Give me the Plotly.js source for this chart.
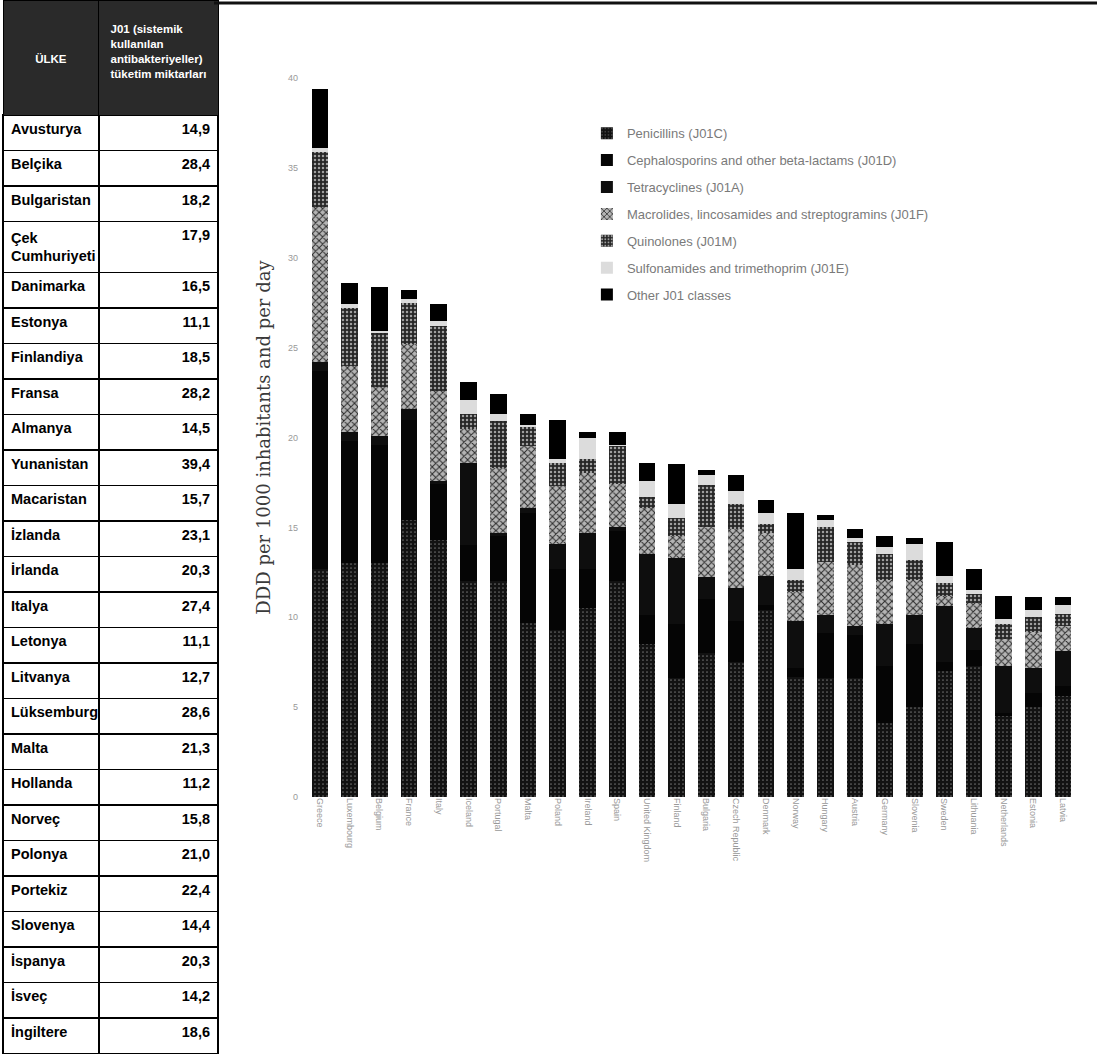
<!DOCTYPE html>
<html>
<head>
<meta charset="utf-8">
<script src="https://cdn.plot.ly/plotly-3.0.1.min.js"></script>
<style>
html,body{margin:0;padding:0;background:#fff;}
#chart{width:1097px;height:1056px;}
</style>
</head>
<body>
<div id="chart"></div>
<script>
// ---- Table data (left) ----
const tableHeader = ["\u00a0<br>\u00a0<br>\u00a0<br>ÜLKE", "\u00a0<br>J01 (sistemik<br>kullanılan<br>antibakteriyeller)<br>tüketim miktarları"];
const tableCountries = ["Avusturya","Belçika","Bulgaristan","Çek<br>Cumhuriyeti","Danimarka","Estonya","Finlandiya","Fransa","Almanya","Yunanistan","Macaristan","İzlanda","İrlanda","Italya","Letonya","Litvanya","Lüksemburg","Malta","Hollanda","Norveç","Polonya","Portekiz","Slovenya","İspanya","İsveç","İngiltere"];
const tableValues = [14.9,28.4,18.2,17.9,16.5,11.1,18.5,28.2,14.5,39.4,15.7,23.1,20.3,27.4,11.1,12.7,28.6,21.3,11.2,15.8,21.0,22.4,14.4,20.3,14.2,18.6];

// ---- Chart data (right) ----
const chartCountries = ["Greece","Luxembourg","Belgium","France","Italy","Iceland","Portugal","Malta","Poland","Ireland","Spain","United Kingdom","Finland","Bulgaria","Czech Republic","Denmark","Norway","Hungary","Austria","Germany","Slovenia","Sweden","Lithuania","Netherlands","Estonia","Latvia"];
const seriesNames = ["Penicillins (J01C)","Cephalosporins and other beta-lactams (J01D)","Tetracyclines (J01A)","Macrolides, lincosamides and streptogramins (J01F)","Quinolones (J01M)","Sulfonamides and trimethoprim (J01E)","Other J01 classes"];
const penicillins    = [12.7,13.0,13.0,15.4,14.3,12.0,12.0,9.7,9.3,10.5,12.0,8.5,6.6,8.0,7.5,10.4,6.7,6.6,6.6,4.1,5.0,7.0,7.3,4.5,5.0,5.6];
const cephalosporins = [11.0,6.8,6.6,5.6,3.1,2.0,2.5,6.1,3.4,2.2,2.8,1.6,3.0,3.0,2.3,0.3,0.5,2.5,2.4,3.2,3.5,0.5,0.9,0.2,0.8,0.6];
const tetracyclines  = [0.5,0.5,0.5,0.6,0.2,4.6,0.2,0.3,1.4,2.0,0.2,3.4,3.7,1.25,1.8,1.6,2.6,1.0,0.5,2.3,1.6,3.1,1.2,2.6,1.4,1.9];
const macrolides     = [8.6,3.7,2.7,3.6,5.0,1.9,3.6,3.4,3.2,3.3,2.4,2.6,1.2,2.75,3.3,2.4,1.6,3.0,3.4,2.5,2.0,0.6,1.4,1.5,2.0,1.4];
const quinolones     = [3.1,3.2,3.0,2.3,3.6,0.8,2.6,1.1,1.3,0.8,2.1,0.6,1.0,2.35,1.4,0.5,0.7,1.9,1.3,1.4,1.1,0.7,0.5,0.8,0.8,0.7];
const sulfonamides   = [0.2,0.2,0.1,0.2,0.3,0.8,0.4,0.1,0.2,1.2,0.1,0.9,0.8,0.55,0.7,0.6,0.6,0.4,0.2,0.4,0.9,0.4,0.2,0.3,0.4,0.5];
const otherJ01       = [3.3,1.2,2.5,0.5,0.9,1.0,1.1,0.6,2.2,0.3,0.7,1.0,2.2,0.3,0.9,0.7,3.1,0.3,0.5,0.6,0.3,1.9,1.2,1.3,0.7,0.4];
const yTickValues = [0,5,10,15,20,25,30,35,40];

// ---- Styles ----
const W = 1097, H = 1056;
const seriesData = [penicillins, cephalosporins, tetracyclines, macrolides, quinolones, sulfonamides, otherJ01];
const seriesMarkers = [
  {color:'#161616', pattern:{shape:'.', fgcolor:'#6a6a6a', bgcolor:'#121212', size:4, solidity:0.15}},
  {color:'#050505'},
  {color:'#0e0e0e'},
  {color:'#9a9a9a', pattern:{shape:'x', fgcolor:'#2a2a2a', bgcolor:'#b4b4b4', size:5, solidity:0.35}},
  {color:'#333333', pattern:{shape:'.', fgcolor:'#a0a0a0', bgcolor:'#262626', size:4, solidity:0.3}},
  {color:'#dcdcdc'},
  {color:'#000000'}
];
const tableFont = 'Liberation Sans, Arial, sans-serif';

const traces = [];
traces.push({
  type:'table',
  domain:{x:[3/W, 218/W], y:[0,1]},
  columnwidth:[95,118],
  header:{
    values: tableHeader,
    align:'center',
    height:115,
    fill:{color:'#2a2a2a'},
    line:{color:'#000', width:1},
    font:{family:tableFont, size:11.5, color:'#ffffff', weight:'bold'}
  },
  cells:{
    values:[tableCountries, tableValues.map(v => v.toFixed(1).replace('.', ','))],
    align:['left','right'],
    height:35.5,
    fill:{color:'#ffffff'},
    line:{color:'#000', width:1.5},
    font:{family:tableFont, size:14.5, color:'#000', weight:'bold'}
  }
});

seriesData.forEach((arr, i) => {
  const m = Object.assign({line:{width:0}}, seriesMarkers[i]);
  traces.push({
    type:'bar',
    x: chartCountries,
    y: arr,
    name: seriesNames[i],
    legendgroup: 'g' + i,
    marker: m,
    hoverinfo:'skip'
  });
});

const layout = {
  width: W, height: H,
  margin:{l:0, r:0, t:0, b:0},
  paper_bgcolor:'#fff', plot_bgcolor:'#fff',
  barmode:'stack',
  bargap:0.44,
  font:{family:'Liberation Sans, Arial, sans-serif'},
  showlegend:true,
  legend:{
    x:0.535, y:0.888, xanchor:'left', yanchor:'top',
    traceorder:'grouped', tracegroupgap:7,
    font:{size:13, color:'#7a7a7a', family:'Liberation Sans, Arial, sans-serif'},
    bgcolor:'rgba(0,0,0,0)'
  },
  xaxis:{
    domain:[305/W, 1078/W],
    type:'category',
    tickangle:90,
    tickfont:{size:9, color:'#999'},
    showline:false, ticks:'', showgrid:false, zeroline:false,
    automargin:false
  },
  yaxis:{
    domain:[(H-797)/H, (H-78)/H],
    range:[0,40],
    tickvals: yTickValues,
    tickfont:{size:9, color:'#999'},
    showline:false, ticks:'', showgrid:false, zeroline:false,
    ticklabelstandoff:6,
    automargin:false,
    title:{text:'DDD per 1000 inhabitants and per day', font:{family:'DejaVu Serif, Liberation Serif, serif', size:18, color:'#3a3a3a'}, standoff:12}
  },
  shapes:[
    {type:'line', xref:'paper', yref:'paper', x0:214/W, x1:1, y0:1-3/H, y1:1-3/H, line:{color:'#111', width:3}}
  ]
};

Plotly.newPlot('chart', traces, layout, {displayModeBar:false, staticPlot:true});
</script>
</body>
</html>
